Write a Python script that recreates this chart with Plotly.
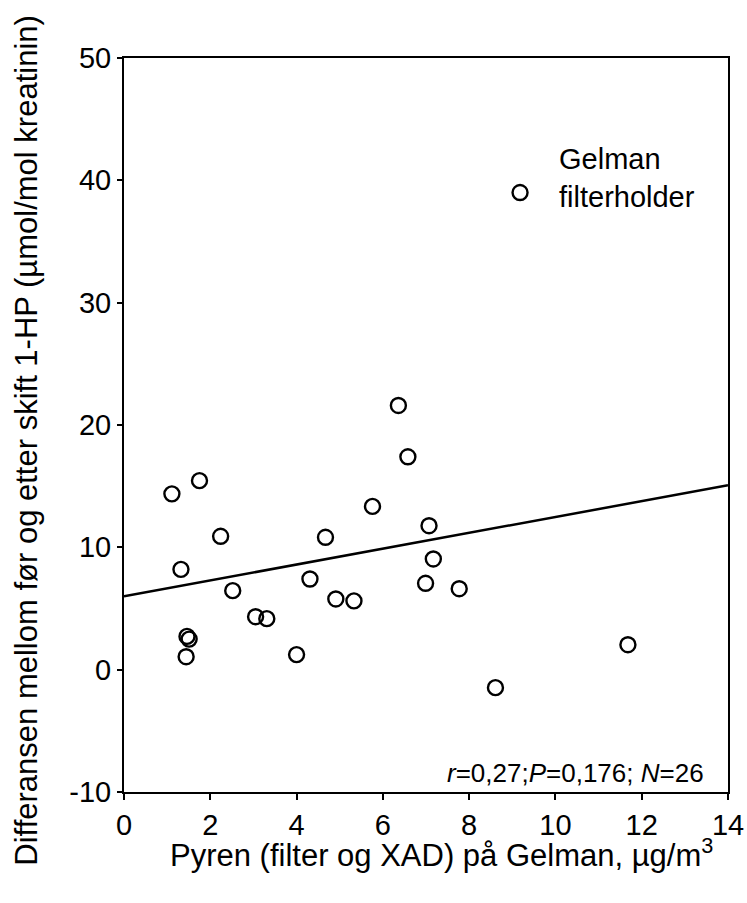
import plotly.graph_objects as go

# Data
pyren = [1.11, 1.75, 2.24, 1.32, 2.52, 3.05, 3.31, 1.46, 1.51, 1.44, 4.00, 4.31,
         4.67, 4.91, 5.33, 5.76, 6.36, 6.58, 7.07, 7.17, 6.99, 7.77, 11.68, 8.61, 9.18]
diff_1hp = [14.37, 15.45, 10.9, 8.2, 6.46, 4.33, 4.17, 2.72, 2.5, 1.06, 1.23, 7.41,
            10.82, 5.78, 5.62, 13.35, 21.6, 17.4, 11.77, 9.05, 7.06, 6.62, 2.04, -1.47, 39.0]

# Regression line (intercept, slope)
reg_x = [0, 14]
reg_intercept = 6.0
reg_slope = 0.648
reg_y = [reg_intercept + reg_slope * v for v in reg_x]

x_ticks = [0, 2, 4, 6, 8, 10, 12, 14]
y_ticks = [-10, 0, 10, 20, 30, 40, 50]
y_tick_labels = ["-10", "0", "10", "20", "30", "40", "50"]

FONT = "Liberation Sans, Arial, sans-serif"

fig = go.Figure()
fig.add_trace(go.Scatter(x=reg_x, y=reg_y, mode="lines",
                         line=dict(color="black", width=2.5), showlegend=False,
                         hoverinfo="skip"))
fig.add_trace(go.Scatter(x=pyren, y=diff_1hp, mode="markers",
                         marker=dict(symbol="circle-open", size=15, color="black",
                                     line=dict(width=2.4, color="black")),
                         showlegend=False))

fig.update_layout(
    width=747, height=903,
    margin=dict(l=124, r=19, t=58, b=111),
    plot_bgcolor="white", paper_bgcolor="white",
    font=dict(family=FONT, color="black", size=29),
    xaxis=dict(range=[0, 14], tickvals=x_ticks, ticks="outside", ticklen=6, tickwidth=1.5,
               tickcolor="black", showline=True, linecolor="black", linewidth=2,
               mirror=True, showgrid=False, zeroline=False, automargin=False,
               tickfont=dict(size=29, family=FONT)),
    yaxis=dict(range=[-10, 50], tickvals=y_ticks, ticktext=y_tick_labels,
               ticks="outside", ticklen=5, tickwidth=1.5,
               tickcolor="black", showline=True, linecolor="black", linewidth=2,
               mirror=True, showgrid=False, zeroline=False, automargin=False,
               tickfont=dict(size=29, family=FONT)),
)

fig.add_annotation(text="Differansen mellom før og etter skift 1-HP (µmol/mol kreatinin)",
                   xref="paper", yref="paper", x=-0.1606, y=0.48, textangle=-90,
                   xanchor="center", yanchor="middle", showarrow=False,
                   font=dict(size=31, family=FONT))
fig.add_annotation(text="Pyren (filter og XAD) på Gelman, µg/m<sup>3</sup>",
                   xref="paper", yref="paper", x=0.526, y=-0.0825,
                   xanchor="center", yanchor="middle", showarrow=False,
                   font=dict(size=31, family=FONT))
fig.add_annotation(text="Gelman<br>filterholder",
                   xref="paper", yref="paper", x=0.717, y=0.836,
                   xanchor="left", yanchor="middle", align="left", showarrow=False,
                   font=dict(size=29, family=FONT))
fig.add_annotation(text="<i>r</i>=0,27;<i>P</i>=0,176; <i>N</i>=26",
                   xref="paper", yref="paper", x=0.9636, y=0.0259,
                   xanchor="right", yanchor="middle", showarrow=False,
                   font=dict(size=26, family=FONT))

fig.write_html("out.html")
